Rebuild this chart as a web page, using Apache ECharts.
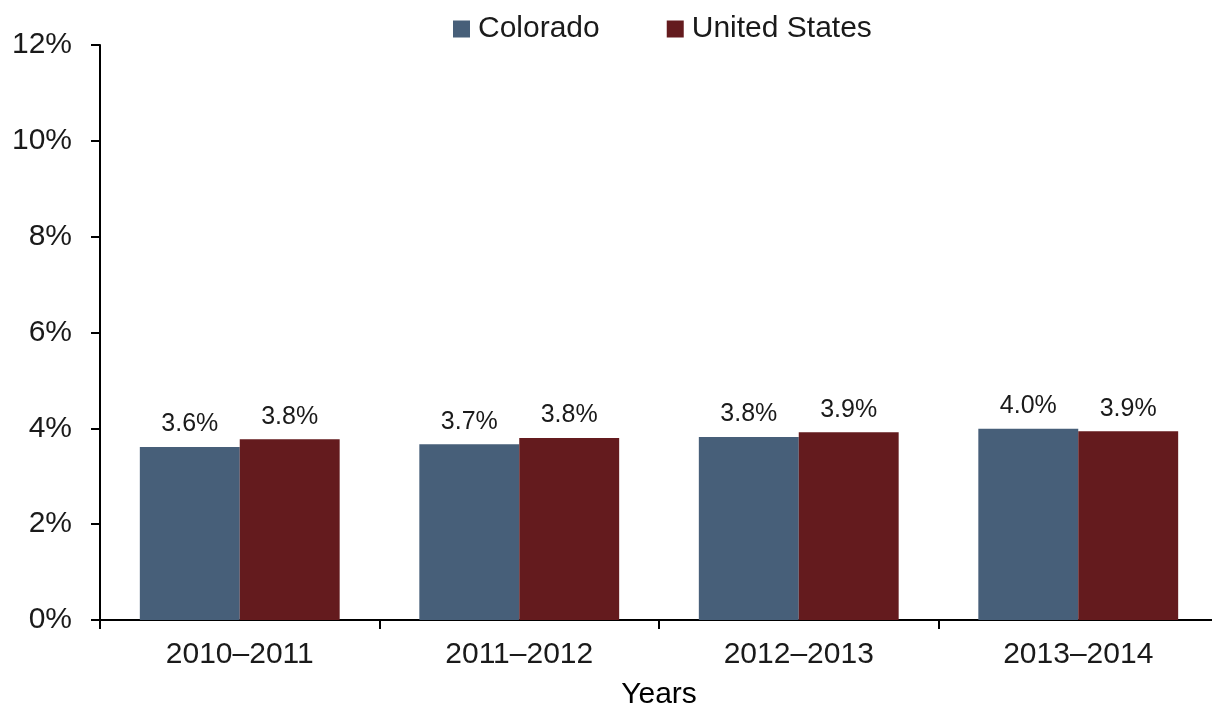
<!DOCTYPE html>
<html>
<head>
<meta charset="utf-8">
<script src="https://cdn.jsdelivr.net/npm/echarts@6/dist/echarts.min.js"></script>
<style>html,body{margin:0;padding:0;background:#fff;}#c{width:1212px;height:707px;}</style>
</head>
<body>
<div id="c"></div>
<script>
const categories = ['2010–2011', '2011–2012', '2012–2013', '2013–2014'];
const colorado = [3.61, 3.67, 3.82, 3.99];
const unitedStates = [3.77, 3.80, 3.92, 3.94];
const yTicks = [0, 2, 4, 6, 8, 10, 12];

const FONT = '"Liberation Sans", Arial, sans-serif';
const chart = echarts.init(document.getElementById('c'), null, {renderer: 'canvas'});
const labelCfg = {
  show: true, position: 'top', distance: 10,
  fontFamily: FONT, fontSize: 25, color: '#1a1a1a',
  formatter: p => p.value.toFixed(1) + '%'
};
chart.setOption({
  animation: false,
  textStyle: {fontFamily: FONT},
  legend: {
    left: 448, top: 9,
    itemWidth: 17, itemHeight: 17, itemGap: 67,
    icon: 'rect',
    textStyle: {fontFamily: FONT, fontSize: 30, color: '#1a1a1a', padding: [0, 0, 0, 3]},
    data: ['Colorado', 'United States']
  },
  grid: {left: 100, right: -6, top: 45, bottom: 87, containLabel: false, outerBoundsMode: 'none'},
  xAxis: {
    type: 'category', data: categories,
    name: 'Years', nameLocation: 'middle', nameGap: 60,
    nameTextStyle: {fontFamily: FONT, fontSize: 30, color: '#000'},
    axisLine: {lineStyle: {color: '#000', width: 2}},
    axisTick: {show: true, length: 9, lineStyle: {color: '#000', width: 2}},
    axisLabel: {fontFamily: FONT, fontSize: 30, color: '#1a1a1a', margin: 20}
  },
  yAxis: {
    type: 'value', min: yTicks[0], max: yTicks[yTicks.length - 1], interval: 2,
    axisLine: {show: true, lineStyle: {color: '#000', width: 2}},
    axisTick: {show: true, length: 9, lineStyle: {color: '#000', width: 2}},
    splitLine: {show: false},
    axisLabel: {fontFamily: FONT, fontSize: 30, color: '#1a1a1a', margin: 28, formatter: v => v + '%'}
  },
  series: [
    {name: 'Colorado', type: 'bar', data: colorado, barGap: '0%', barCategoryGap: '28.5%',
     itemStyle: {color: '#475f79'}, label: labelCfg},
    {name: 'United States', type: 'bar', data: unitedStates, barGap: '0%', barCategoryGap: '28.5%',
     itemStyle: {color: '#641b1e'}, label: labelCfg}
  ]
});
</script>
</body>
</html>
